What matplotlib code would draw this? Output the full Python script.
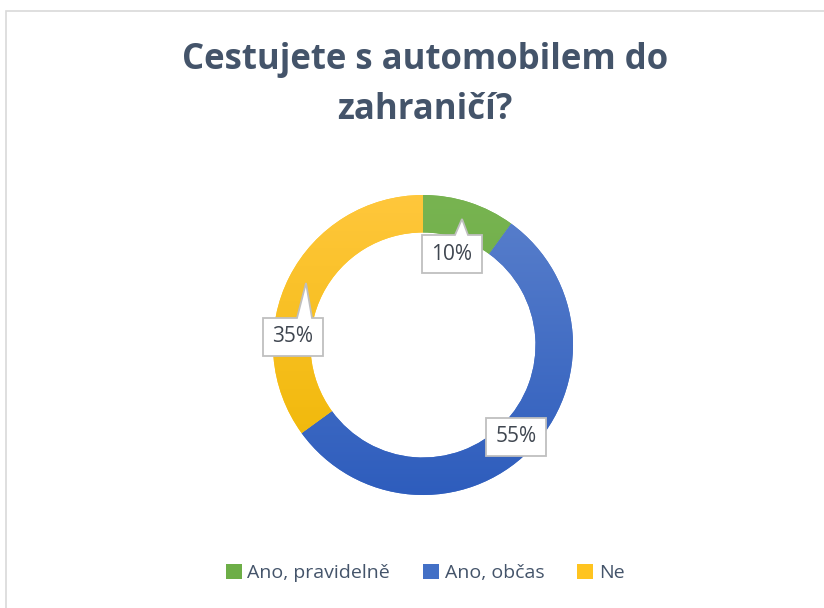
import numpy as np
import matplotlib.pyplot as plt
from matplotlib.patches import Rectangle, Polygon
from matplotlib.colors import LinearSegmentedColormap

# data
labels = ["Ano, pravidelně", "Ano, občas", "Ne"]
values = [10, 55, 35]
title = "Cestujete s automobilem do\nzahraničí?"

# gradient colours (top, bottom) and flat legend colours
grad = [("#78B451", "#62A43C"), ("#5A80CC", "#2E5DBD"), ("#FFC73C", "#EEB600")]
colors = ["#6DAE47", "#4370C6", "#FFC41F"]

plt.rcParams['font.family'] = ['Open Sans', 'DejaVu Sans']

fig = plt.figure(figsize=(8.24, 6.08), dpi=100)
fig.patch.set_facecolor("white")

# chart border
fig.patches.append(Rectangle((6 / 824, -0.01), 1.02, 1 - 11 / 608 + 0.01,
                             transform=fig.transFigure, fill=False,
                             ec="#D9D9D9", lw=1.2))

ax = fig.add_axes([198 / 824, 38 / 608, 450 / 824, 450 / 608])
wedges, _ = ax.pie(values, colors=colors, startangle=90, counterclock=False,
                   radius=1, wedgeprops=dict(width=0.25, ec="none"))
ax.set_xlim(-1.5, 1.5)
ax.set_ylim(-1.5, 1.5)
ax.set_aspect("equal")
ax.axis("off")

# vertical gradient fill for each segment
g = np.linspace(0, 1, 256).reshape(-1, 1)
for w, (c_top, c_bot) in zip(wedges, grad):
    cmap = LinearSegmentedColormap.from_list("g", [c_top, c_bot])
    im = ax.imshow(g, cmap=cmap, extent=(-1, 1, -1, 1), origin="upper",
                   aspect="auto", zorder=2)
    im.set_clip_path(w)

# callouts: box centre, optional pointer tip (axis units, 1 unit = 150 px)
px = 1 / 150
bw, bh = 60 * px, 38 * px
callouts = [((452 - 423) * px, (345 - 254) * px, (462 - 423) * px, (345 - 219) * px, (455 - 423) * px, (468 - 423) * px),
            ((516 - 423) * px, (345 - 437) * px, None, None, None, None),
            ((293 - 423) * px, (345 - 337) * px, (306 - 423) * px, (345 - 283) * px, (297 - 423) * px, (312 - 423) * px)]
for v, (cx, cy, tx, ty, b0, b1) in zip(values, callouts):
    x0, x1 = cx - bw / 2, cx + bw / 2
    y0, y1 = cy - bh / 2, cy + bh / 2
    if tx is None:
        pts = [(x0, y0), (x1, y0), (x1, y1), (x0, y1)]
    else:
        pts = [(x0, y0), (x1, y0), (x1, y1), (b1, y1), (tx, ty), (b0, y1), (x0, y1)]
    ax.add_patch(Polygon(pts, closed=True, fc="white", ec="#BFBFBF", lw=1.3, zorder=5))
    ax.text(cx, cy, f"{v}%", ha="center", va="center", fontsize=15,
            color="#3F4650", zorder=6)

fig.text(0.516, 1 - 85 / 608, title, ha="center", va="center", fontsize=25,
         fontweight="bold", color="#44546A", linespacing=1.5)

fig.legend(wedges, labels, loc="center", bbox_to_anchor=(0.516, 1 - 573 / 608),
           ncol=3, frameon=False, fontsize=14, labelcolor="#44546A",
           handlelength=0.8, handleheight=0.8, handletextpad=0.3, columnspacing=1.7)

plt.savefig("out.png", dpi=100)
